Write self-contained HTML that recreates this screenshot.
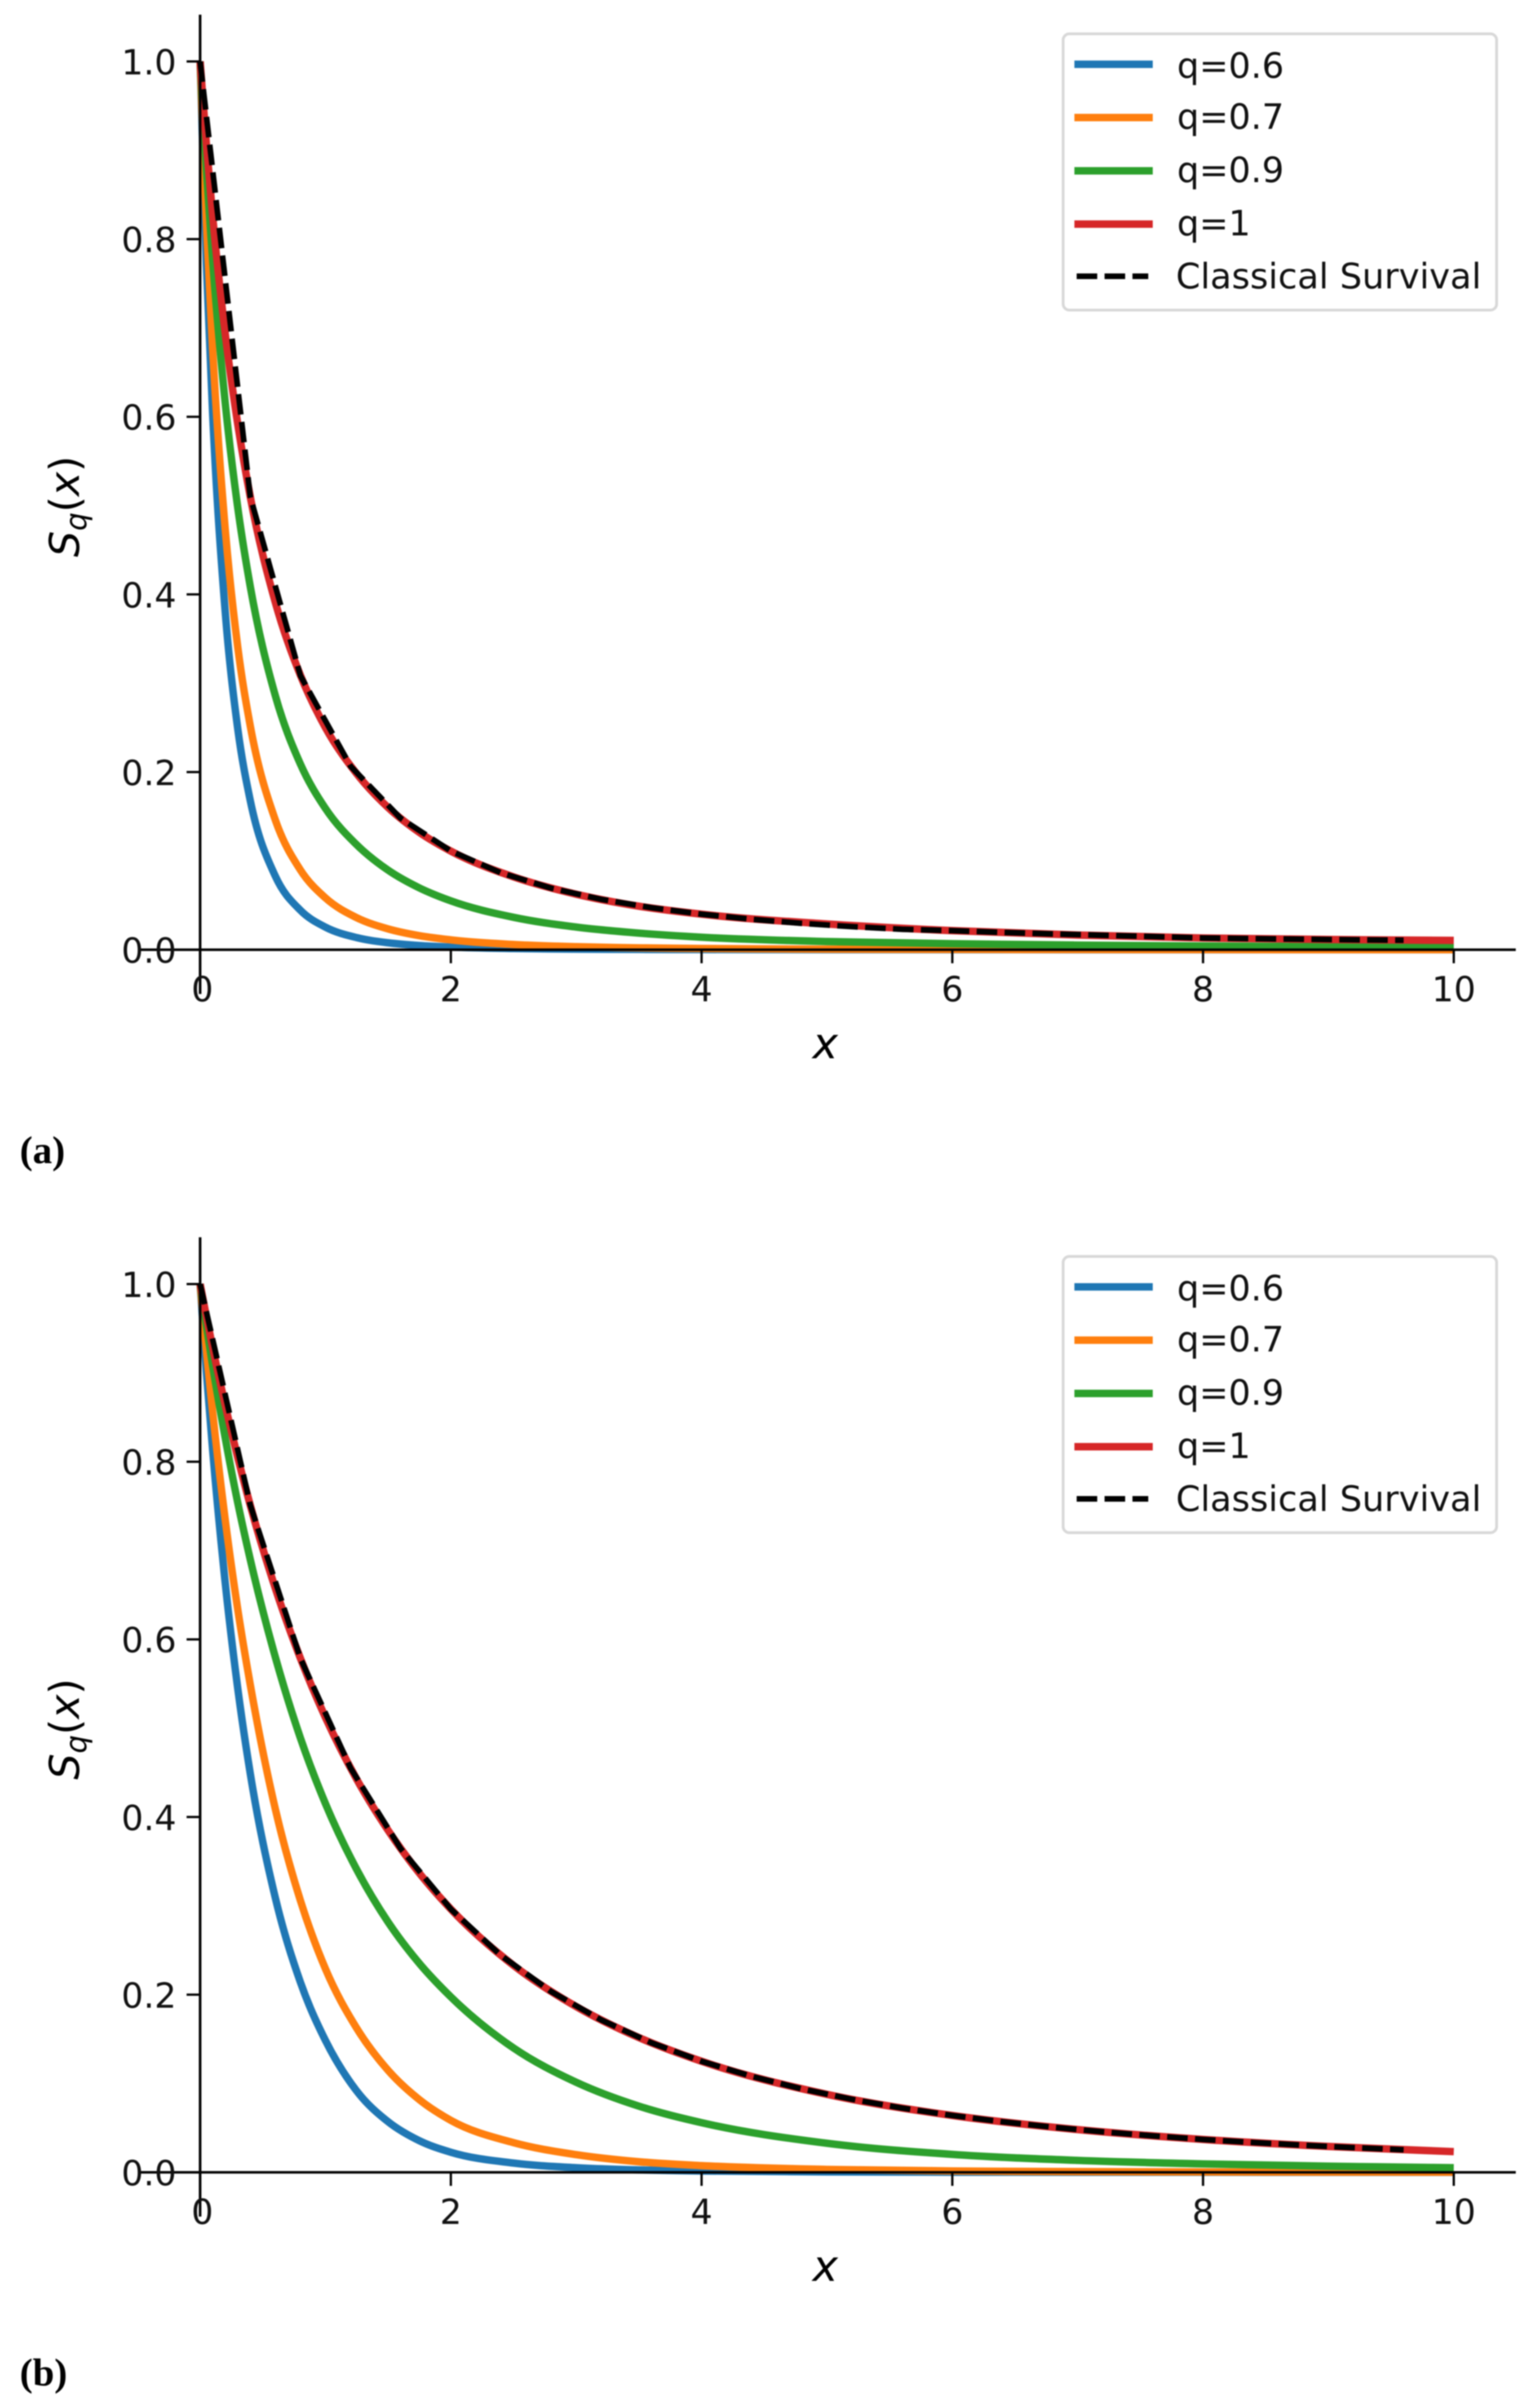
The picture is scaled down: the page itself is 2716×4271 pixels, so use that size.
<!DOCTYPE html>
<html lang="en">
<head>
<meta charset="utf-8">
<title>Survival curves Sq(x)</title>
<style>
html,body{margin:0;padding:0;background:#fff;width:2716px;height:4271px;overflow:hidden}
svg{display:block;font-family:"DejaVu Sans","Liberation Sans",sans-serif;text-rendering:geometricPrecision;filter:blur(1px)}
</style>
</head>
<body>
<svg id="figure" xmlns="http://www.w3.org/2000/svg" width="2716" height="4271" viewBox="0 0 2716 4271"></svg>
<script>
// ---- shared axis data ----
const xTickValues = [0, 2, 4, 6, 8, 10];
const xTickLabels = ["0", "2", "4", "6", "8", "10"];
const yTickValues = [0, 0.2, 0.4, 0.6, 0.8, 1];
const yTickLabels = ["0.0", "0.2", "0.4", "0.6", "0.8", "1.0"];
const seriesLabels = ["q=0.6", "q=0.7", "q=0.9", "q=1"];
const classicalLabel = "Classical Survival";

// sampled x positions (data units) of the q curves
const xSamples = [0, 0.05, 0.1, 0.2, 0.3, 0.4, 0.6, 0.8, 1, 1.25, 1.5, 1.75, 2, 2.5, 3, 3.5, 4, 5, 6, 7, 8, 9, 10];
// coarser x positions of the classical dashed curve
const xClassical = [0, 0.4, 0.8, 1.2, 1.6, 2, 2.4, 2.8, 3.2, 3.6, 4, 4.4, 4.8, 5.2, 5.6, 6, 6.4, 6.8, 7.2, 7.6, 8, 8.4, 8.8, 9.2, 9.6];

// ---- panel (a) values ----
const aQ06 = [1, .772, .603, .381, .249, .168, .0828, .0444, .0254, .0136, .0078, .0047, .003, .0013, .00064, .00034, .0002, .00008, .00004, .00002, .00001, .00001, .00001];
const aQ07 = [1, .819, .676, .474, .341, .252, .146, .0898, .0583, .036, .0234, .0158, .0111, .0059, .0034, .0021, .0014, .00065, .00034, .0002, .00012, .00008, .00005];
const aQ09 = [1, .878, .776, .616, .498, .409, .286, .209, .159, .118, .0895, .0695, .055, .0365, .0255, .0187, .0141, .0092, .0068, .0052, .0042, .0035, .003];
const aQ10 = [1, .907, .826, .694, .592, .51, .391, .309, .25, .198, .16, .132, .111, .082, .0625, .049, .04, .029, .0215, .0165, .0132, .0115, .0105];
const aClassical = [1, .5102, .3086, .2066, .1479, .1111, .0865, .0693, .0567, .0473, .04, .0343, .0297, .026, .023, .0215, .0195, .0178, .0163, .0148, .0132, .0125, .0118, .0112, .0107];

// ---- panel (b) values ----
const bQ06 = [1, .901, .813, .664, .545, .449, .309, .214, .1484, .0914, .0569, .0355, .0226, .0104, .0052, .0027, .00148, .00049, .00018, .00007, .00003, .00002, .00001];
const bQ07 = [1, .925, .856, .735, .634, .549, .409, .306, .229, .162, .1147, .0817, .0585, .0334, .0199, .0119, .00755, .00329, .00156, .0008, .00043, .00025, .00015];
const bQ09 = [1, .953, .908, .827, .754, .69, .58, .489, .415, .3407, .2816, .235, .1975, .14, .1014, .0745, .0559, .0327, .0202, .01344, .00948, .00691, .00518];
const bQ10 = [1, .9634, .9286, .8638, .805, .751, .6575, .5787, .512, .4423, .3849, .3366, .2963, .233, .1866, .1517, .125, .0878, .064, .0481, .037, .0291, .0233];
const bClassical = [1, .7513, .5787, .4552, .3644, .2963, .2441, .2035, .1715, .1458, .125, .108, .0939, .0822, .0723, .064, .0569, .0508, .0456, .041, .037, .0336, .0305, .0278, .0254];

const seriesColors = ["#1f77b4", "#ff7f0e", "#2ca02c", "#d62728"];
const seriesKeys = ["q06", "q07", "q09", "q10"];
const NS = "http://www.w3.org/2000/svg";
const fig = document.getElementById("figure");

function mk(tag, attrs, parent) {
  const n = document.createElementNS(NS, tag);
  for (const k in attrs) n.setAttribute(k, attrs[k]);
  parent.appendChild(n);
  return n;
}

// axis functions (panel local coordinates)
function xScale(v) { return 355 + v * 222.4; }
function yScale(v) { return 1684.5 - v * 1575.5; }

// monotone cubic path: parabolic tangents clipped to the Fritsch-Carlson bound
function smoothPath(xs, ys) {
  const px = xs.map(xScale), py = ys.map(yScale), n = px.length;
  const s = [], w = [], t = [];
  for (let i = 0; i < n - 1; i++) {
    w.push(px[i + 1] - px[i]);
    s.push((py[i + 1] - py[i]) / w[i]);
  }
  t.push(s[0]);
  for (let i = 1; i < n - 1; i++) {
    if (s[i - 1] * s[i] <= 0) { t.push(0); continue; }
    const p = (s[i - 1] * w[i] + s[i] * w[i - 1]) / (w[i - 1] + w[i]);
    const m = Math.min(Math.abs(p), 3 * Math.abs(s[i - 1]), 3 * Math.abs(s[i]));
    t.push((s[i] > 0 ? 1 : -1) * m);
  }
  t.push(s[n - 2]);
  let d = "M" + px[0].toFixed(2) + " " + py[0].toFixed(2);
  for (let i = 0; i < n - 1; i++) {
    const h = w[i] / 3;
    d += "C" + (px[i] + h).toFixed(2) + " " + (py[i] + h * t[i]).toFixed(2) + " " +
         (px[i + 1] - h).toFixed(2) + " " + (py[i + 1] - h * t[i + 1]).toFixed(2) + " " +
         px[i + 1].toFixed(2) + " " + py[i + 1].toFixed(2);
  }
  return d;
}

function straightPath(xs, ys) {
  return xs.map(function (x, i) {
    return (i ? "L" : "M") + xScale(x).toFixed(2) + " " + yScale(ys[i]).toFixed(2);
  }).join("");
}

function drawPanel(prefix, dy, curves, classical, caption, captionY) {
  const g = mk("g", { transform: "translate(0," + dy + ")" }, fig);
  
  

  // curves
  curves.forEach(function (vals, i) {
    const p = mk("path", { d: smoothPath(xSamples, vals), fill: "none", stroke: seriesColors[i], "stroke-width": 13.2, "stroke-linejoin": "round" }, g);
    
    
  });
  const dash = mk("path", { d: straightPath(xClassical, classical), fill: "none", stroke: "#000", "stroke-width": 10, "stroke-dasharray": "36.5 13", "stroke-linejoin": "round" }, g);
  
  

  // spines
  const ySpine = mk("line", { x1: xScale(0), x2: xScale(0), y1: 26, y2: 1763, stroke: "#000", "stroke-width": 4.6 }, g);
  
  
  const xSpine = mk("line", { x1: 247, x2: 2689, y1: yScale(0), y2: yScale(0), stroke: "#000", "stroke-width": 4.6 }, g);
  
  

  // x ticks
  xTickValues.forEach(function (v, i) {
    const t = mk("line", { x1: xScale(v), x2: xScale(v), y1: yScale(0), y2: yScale(0) + 24, stroke: "#000", "stroke-width": 4 }, g);
    
    
    const l = mk("text", { x: xScale(v) + (v === 0 ? 4 : 0), y: 1776, "text-anchor": "middle", "font-size": 61.5, fill: "#111" }, g);
    l.textContent = xTickLabels[i];
    
    
  });

  // y ticks
  yTickValues.forEach(function (v, i) {
    const t = mk("line", { x1: 331, x2: xScale(0), y1: yScale(v), y2: yScale(v), stroke: "#000", "stroke-width": 4 }, g);
    
    
    const l = mk("text", { x: 313, y: yScale(v) + 23, "text-anchor": "end", "font-size": 61.5, fill: "#111" }, g);
    l.textContent = yTickLabels[i];
    
    
  });

  // axis titles
  const xt = mk("text", { x: 1464, y: 1877, "text-anchor": "middle", "font-size": 76, "font-style": "italic", fill: "#000" }, g);
  xt.textContent = "x";
  
  

  const yt = mk("text", { transform: "translate(140,988) rotate(-90)", "font-size": 73, fill: "#000" }, g);
  
  
  const sPart = mk("tspan", { "font-style": "italic" }, yt);
  sPart.textContent = "S";
  const qPart = mk("tspan", { "font-style": "italic", "font-size": 52, dy: 13 }, yt);
  qPart.textContent = "q";
  const openPart = mk("tspan", { dy: -13 }, yt);
  openPart.textContent = "(";
  const xPart = mk("tspan", { "font-style": "italic" }, yt);
  xPart.textContent = "x";
  const closePart = mk("tspan", {}, yt);
  closePart.textContent = ")";

  // legend
  const lg = mk("g", {}, g);
  
  
  const box = mk("rect", { x: 1886, y: 60, width: 769, height: 490, rx: 11, ry: 11, fill: "#fff", "fill-opacity": 0.8, stroke: "#d8d8d8", "stroke-width": 5 }, lg);
  
  
  seriesLabels.forEach(function (label, i) {
    const cy = 114 + i * 94.5;
    const sw = mk("line", { x1: 1906, x2: 2045, y1: cy, y2: cy, stroke: seriesColors[i], "stroke-width": 13.2 }, lg);
    
    
    const tx = mk("text", { x: 2088, y: cy + (i === 0 ? 24 : 20), "font-size": 62, fill: "#111" }, lg);
    tx.textContent = label;
    
    
  });
  const dsw = mk("line", { x1: 1910, x2: 2037, y1: 490, y2: 490, stroke: "#000", "stroke-width": 10, "stroke-dasharray": "36.5 13" }, lg);
  
  
  const dtx = mk("text", { x: 2086, y: 511.5, "font-size": 62.3, fill: "#111" }, lg);
  dtx.textContent = classicalLabel;
  
  

  // caption
  const cap = mk("text", { x: 35, y: captionY, "font-size": 69, "font-weight": "bold", "font-family": "'Liberation Serif',serif", fill: "#000" }, fig);
  cap.textContent = caption;
  
  
}

drawPanel("panel-a", 0, [aQ06, aQ07, aQ09, aQ10], aClassical, "(a)", 2063);
drawPanel("panel-b", 2168.5, [bQ06, bQ07, bQ09, bQ10], bClassical, "(b)", 4231);
</script>
</body>
</html>
